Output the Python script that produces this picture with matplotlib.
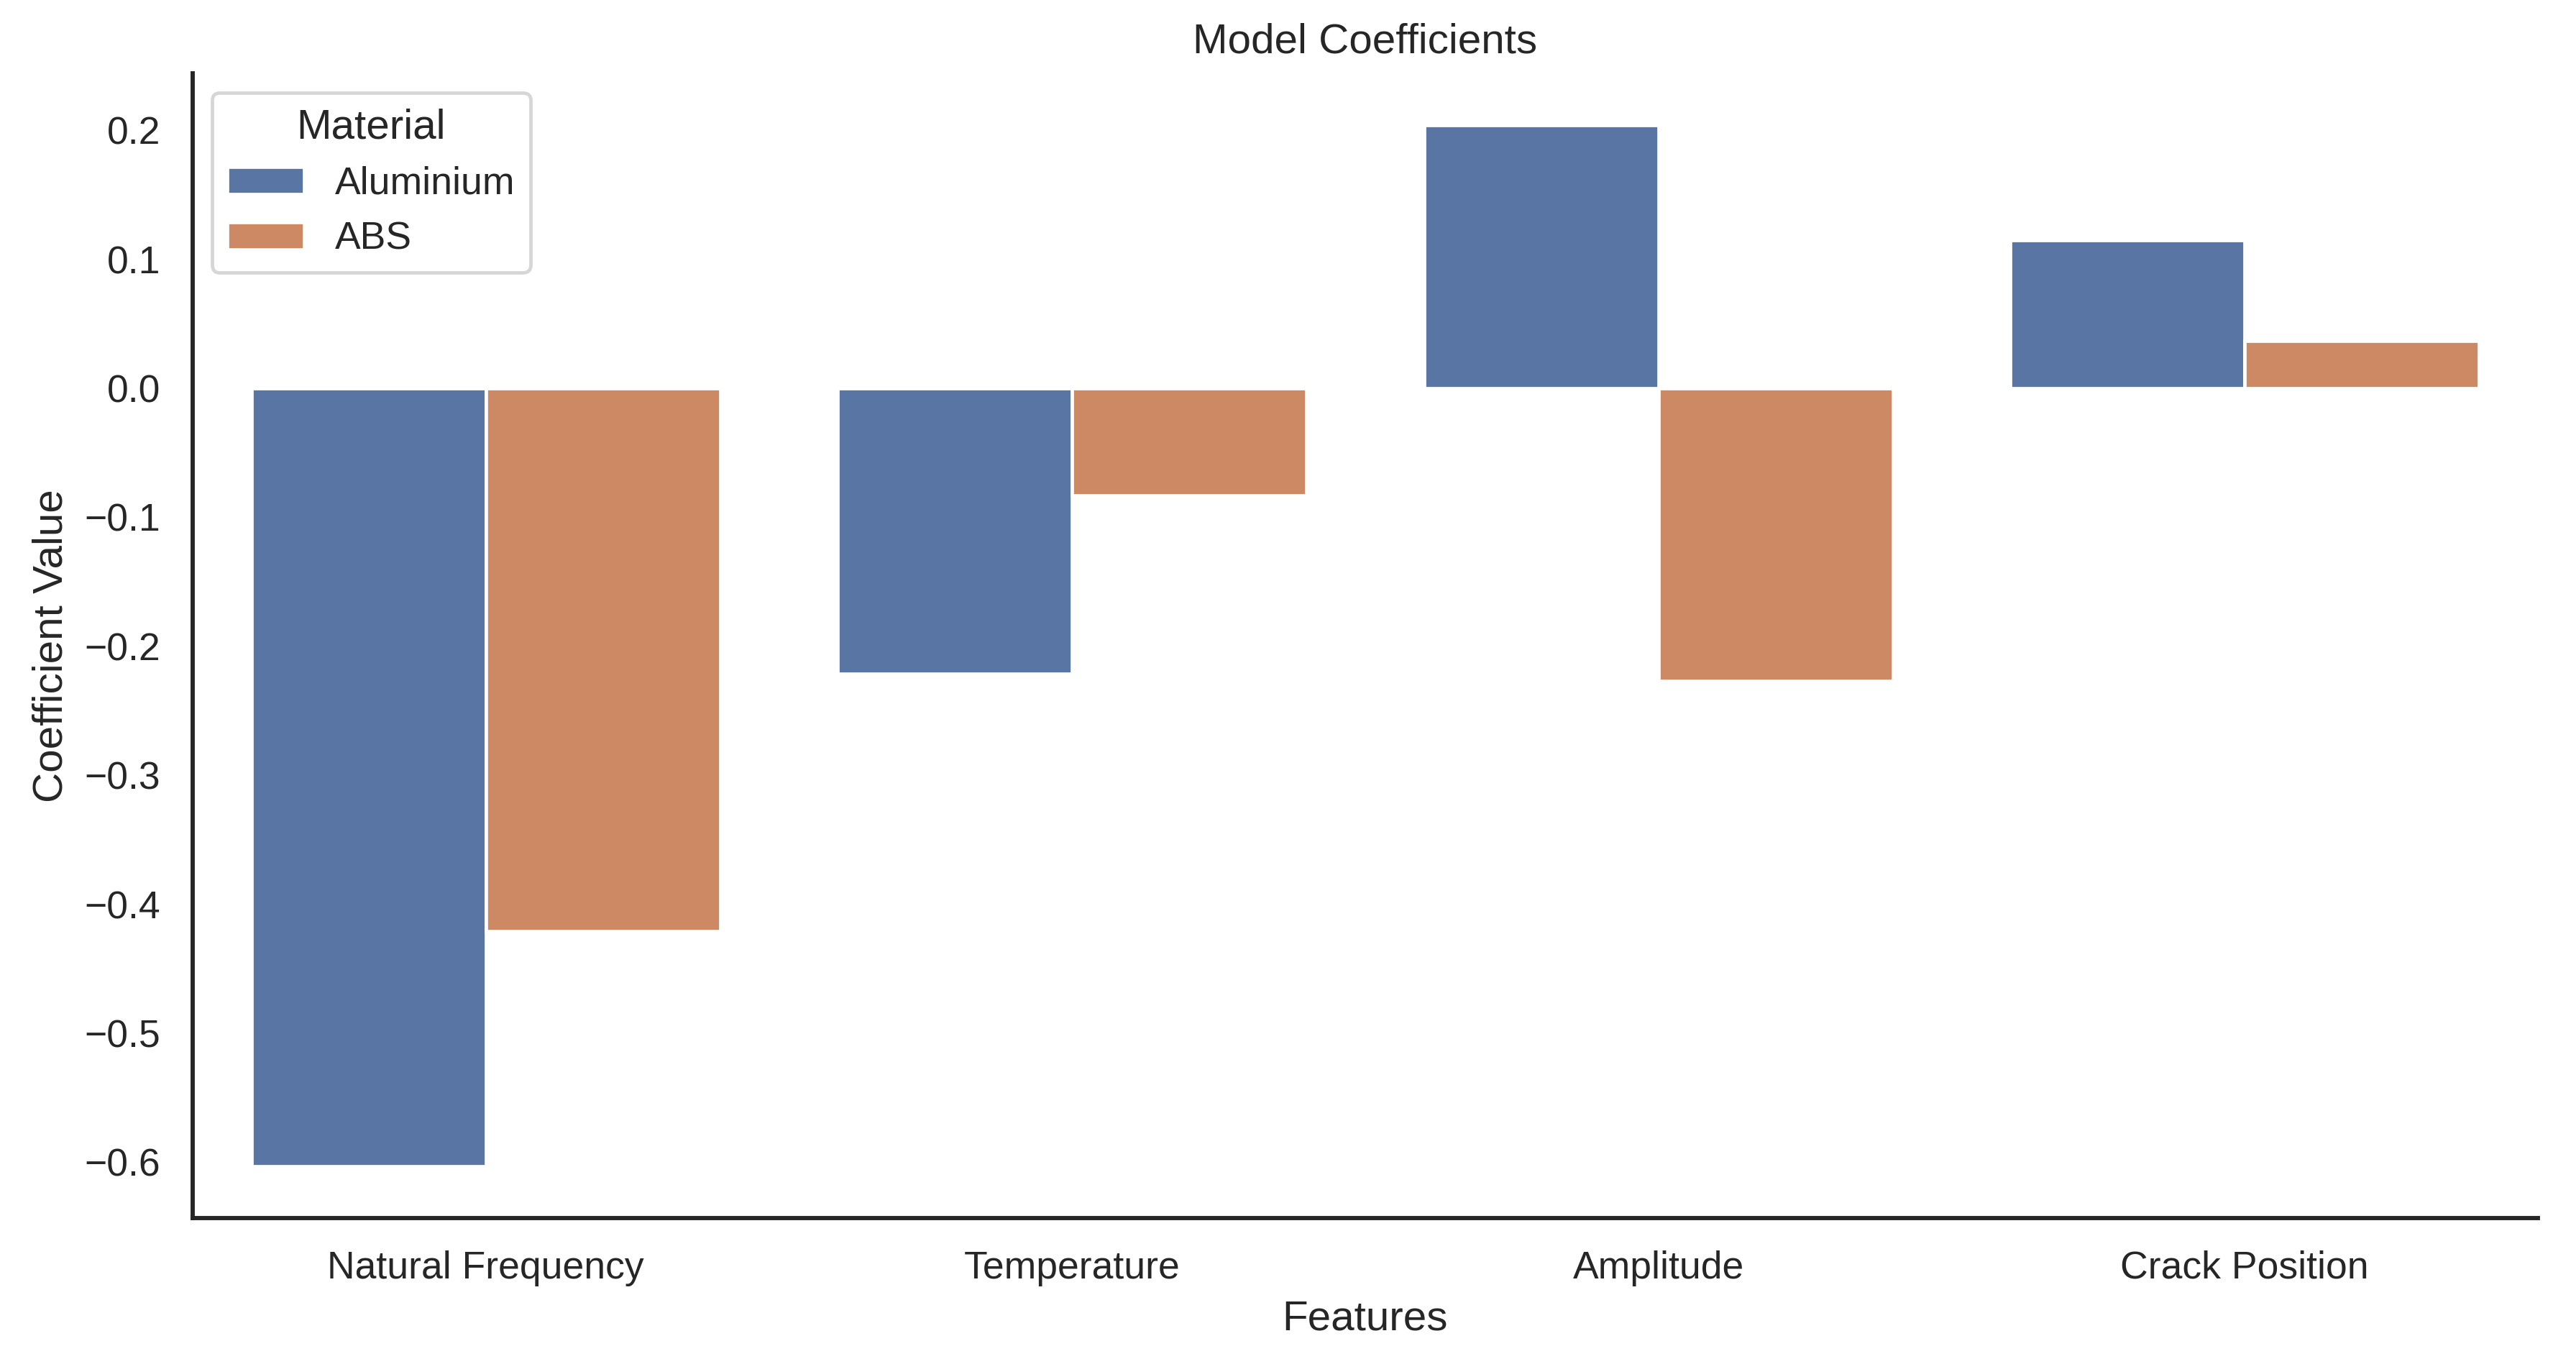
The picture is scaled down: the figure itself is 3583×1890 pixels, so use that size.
import matplotlib
matplotlib.use("Agg")
import matplotlib.pyplot as plt
import seaborn as sns
import pandas as pd

features = ["Natural Frequency", "Temperature", "Amplitude", "Crack Position"]
materials = ["Aluminium", "ABS"]
aluminium_vals = [-0.603, -0.221, 0.204, 0.115]
abs_vals = [-0.421, -0.083, -0.227, 0.037]

df = pd.DataFrame({
    "Feature": features * 2,
    "Material": [materials[0]] * 4 + [materials[1]] * 4,
    "Coefficient": aluminium_vals + abs_vals,
})

sns.set_theme(style="white", context="notebook", font_scale=1.03)
plt.rcParams["font.family"] = ["Liberation Sans", "DejaVu Sans"]

DPI = 340
fig = plt.figure(figsize=(3583 / DPI, 1890 / DPI), dpi=DPI)
ax = fig.add_axes([0.0748, 0.1037, 0.9104, 0.8424])
sns.barplot(data=df, x="Feature", y="Coefficient", hue="Material", ax=ax)
ax.set_title("Model Coefficients")
ax.set_xlabel("Features")
ax.set_ylabel("Coefficient Value")
ax.legend(title="Material", loc="upper left")
sns.despine(ax=ax)
fig.savefig("out.png", dpi=DPI)
